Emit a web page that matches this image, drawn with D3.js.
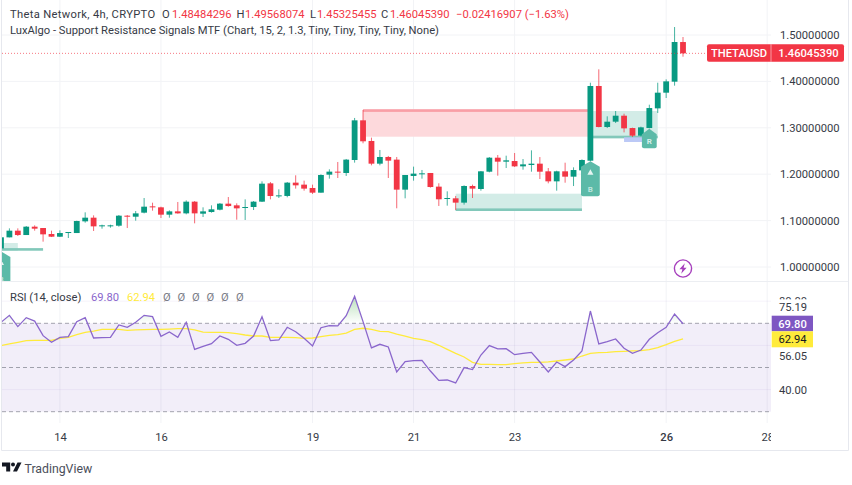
<!DOCTYPE html>
<html>
<meta charset="utf-8"/>
<head>
<title>THETAUSD</title>
<script src="https://d3js.org/d3.v7.min.js"></script>
<style>
  html, body { margin: 0; padding: 0; background: #fff; }
  svg { display: block; }
  text { font-family: Roboto, "Liberation Sans", sans-serif; }
</style>
</head>
<body>
<script>
// candles, 4h bars, first one is cut by the left edge
var opens = [1.040,1.0639,1.0783,1.0689,1.0869,1.0840,1.0711,1.0653,1.0747,1.0732,1.0984,1.1063,1.0890,1.0890,1.0890,1.1106,1.1084,1.1171,1.1307,1.1286,1.1128,1.1199,1.1156,1.1408,1.1149,1.1185,1.1235,1.1365,1.1329,1.1278,1.1293,1.1408,1.1803,1.1530,1.1531,1.1818,1.1775,1.1703,1.1602,1.1990,1.2055,1.2026,1.2306,1.3161,1.2716,1.2227,1.2371,1.2314,1.1667,1.1962,1.2012,1.2026,1.1732,1.1480,1.1480,1.1387,1.1746,1.1681,1.2054,1.2356,1.2270,1.2284,1.2169,1.2198,1.2227,1.2062,1.1846,1.2062,1.1947,1.2083,1.2291,1.3901,1.3017,1.3132,1.3261,1.2995,1.2830,1.2995,1.3419,1.3757,1.3994,1.48484296];
var highs = [1.064,1.0833,1.0833,1.0883,1.0898,1.0840,1.0783,1.0790,1.0754,1.0998,1.1178,1.1113,1.0912,1.0912,1.1120,1.1120,1.1207,1.1487,1.1386,1.1300,1.1221,1.1401,1.1436,1.1422,1.1286,1.1329,1.1379,1.1508,1.1372,1.1458,1.1422,1.1846,1.1832,1.1674,1.1832,1.1976,1.1861,1.1775,1.1997,1.2105,1.2263,1.2328,1.3212,1.3384,1.2788,1.2522,1.2393,1.2371,1.1983,1.2163,1.2091,1.2026,1.1804,1.1631,1.1531,1.1760,1.1775,1.2069,1.2370,1.2414,1.2399,1.2457,1.2327,1.2514,1.2370,1.2133,1.2076,1.2248,1.2148,1.2320,1.3972,1.4260,1.3247,1.3362,1.3304,1.3003,1.3024,1.3498,1.3972,1.4044,1.5172,1.49568074];
var lows = [1.040,1.0639,1.0668,1.0689,1.0783,1.0546,1.0646,1.0646,1.0625,1.0732,1.0955,1.0776,1.0826,1.0847,1.0869,1.0840,1.0998,1.1156,1.1214,1.1056,1.1063,1.1149,1.1135,1.0941,1.1077,1.1171,1.1221,1.1300,1.1020,1.1013,1.1228,1.1401,1.1458,1.1487,1.1502,1.1689,1.1645,1.1574,1.1602,1.1904,1.1918,1.1962,1.2249,1.2666,1.2191,1.2191,1.1918,1.1265,1.1480,1.1861,1.1904,1.1710,1.1315,1.1322,1.1229,1.1344,1.1487,1.1645,1.2040,1.1968,1.2133,1.2155,1.2097,1.2054,1.1896,1.1803,1.1645,1.1817,1.1745,1.2076,1.2277,1.3010,1.2995,1.3103,1.2902,1.2801,1.2816,1.2988,1.3319,1.3642,1.3908,1.45325455];
var closes = [1.064,1.0783,1.0689,1.0869,1.0826,1.0704,1.0653,1.0732,1.0754,1.0991,1.1063,1.0876,1.0898,1.0898,1.1106,1.1084,1.1156,1.1300,1.1300,1.1128,1.1199,1.1156,1.1408,1.1156,1.1199,1.1243,1.1365,1.1314,1.1264,1.1293,1.1408,1.1796,1.1530,1.1544,1.1818,1.1760,1.1689,1.1602,1.1983,1.2055,1.2041,1.2314,1.3161,1.2709,1.2227,1.2371,1.2292,1.1667,1.1983,1.2012,1.2019,1.1724,1.1459,1.1487,1.1387,1.1746,1.1689,1.2062,1.2356,1.2270,1.2299,1.2169,1.2212,1.2227,1.2054,1.1846,1.2062,1.1947,1.2090,1.2306,1.3901,1.3017,1.3132,1.3261,1.2988,1.2830,1.3010,1.3426,1.3757,1.4001,1.4849,1.46045390];

var rsi = [70.44,73.6,68.5,72.55,71.0,64.4,61.4,63.65,63.95,70.75,72.55,63.35,63.5,63.65,69.25,68.2,70.45,73.6,73.0,64.1,66.05,63.65,70.45,58.2,59.6,60.8,64.25,62.75,60.05,60.95,64.25,73.0,62.15,62.45,68.2,66.2,63.2,59.75,68.0,68.95,68.8,73.45,82.2,70.75,58.85,60.5,59.3,47.95,52.65,53.1,53.25,48.4,44.2,44.35,43.0,49.95,49.05,55.65,59.9,58.4,58.55,55.8,56.4,56.85,52.5,47.95,52.5,50.4,53.4,57.5,75.55,60.65,61.7,62.9,58.7,56.4,57.9,62.75,65.75,68.2,74.2,69.8];
var rsiMa = [59.9,60.65,61.4,62.15,62.3,62.3,62.3,63.2,63.65,64.85,65.9,66.5,67.25,67.25,67.25,66.8,67.0,67.1,67.25,67.25,67.4,67.6,67.6,67.0,66.05,65.9,65.9,65.75,65.3,64.7,64.25,64.25,63.65,63.65,63.65,63.5,63.2,63.35,63.95,64.55,64.85,65.6,67.25,67.75,67.25,66.35,66.2,65.15,64.25,63.2,62.6,61.7,60.05,58.2,56.4,54.75,52.35,51.45,51.45,51.3,51.3,51.75,52.05,52.35,52.35,52.5,52.95,53.4,53.85,55.2,56.4,56.7,56.85,57.15,57.3,57.5,57.6,58.1,59.0,60.35,61.85,62.94];

var priceTicks = [1.0,1.1,1.2,1.3,1.4,1.5];
var rsiGrid = [80,60,40];
var rsiBands = [70,50,30];
var rsiAxisLabels = [80,75.19,56.05,40];
var rsiAxisShift = [0,-5,2,0];
var dayLabels = [14,16,19,21,23,26,28];
var dayBars = [6,18,36,48,60,78,90];   // bar number where the day starts

// support / resistance boxes: from bar, to bar, top, bottom
var zoneFrom = [-1,42,53,69,73];
var zoneTo = [4,69,68,77,76];
var zoneTop = [1.0517,1.3399,1.158,1.3362,1.2795];
var zoneBottom = [1.0351,1.2808,1.1207,1.2774,1.2694];
var zoneKind = ["sup","res","sup","sup","blue"];

var signalBars = [-1,69,76];
var signalText = ["B","B","R"];

var W = 852, H = 485;
var chartLeft = 2, axisLeft = 771, frameRight = 848;

var x = d3.scaleLinear().domain([-1,80]).range([0.98,683]);
var y = d3.scaleLinear().domain([1.0,1.5]).range([267,35]);
var yRsi = d3.scaleLinear().domain([30,70]).range([411.7,323.3]);

var svg = d3.select("body").append("svg").attr("width",W).attr("height",H);
var defs = svg.append("defs");
defs.append("clipPath").attr("id","priceClip").append("rect")
  .attr("x",chartLeft).attr("y",0).attr("width",axisLeft-chartLeft).attr("height",281.5);
defs.append("clipPath").attr("id","rsiClip").append("rect")
  .attr("x",chartLeft).attr("y",282).attr("width",axisLeft-chartLeft).attr("height",141);
defs.append("clipPath").attr("id","timeClip").append("rect")
  .attr("x",chartLeft).attr("y",423).attr("width",axisLeft-chartLeft).attr("height",27);
defs.append("clipPath").attr("id","aboveBand").append("rect")
  .attr("x",chartLeft).attr("y",282).attr("width",axisLeft-chartLeft).attr("height",yRsi(70)-282);

var grad = defs.append("linearGradient").attr("id","obFill")
  .attr("gradientUnits","userSpaceOnUse").attr("x1",0).attr("x2",0)
  .attr("y1",yRsi(82)).attr("y2",yRsi(70));
grad.append("stop").attr("offset",0).attr("stop-color","#4caf50").attr("stop-opacity",0.38);
grad.append("stop").attr("offset",1).attr("stop-color","#4caf50").attr("stop-opacity",0);

var GRID = "#f2f3f6";

// vertical grid
svg.append("g").selectAll("line").data(dayBars).join("line")
  .attr("x1",function(d){return x(d);}).attr("x2",function(d){return x(d);})
  .attr("y1",0).attr("y2",423).attr("stroke",GRID);

// price grid + axis
var priceAxis = d3.axisRight(y).tickValues(priceTicks).tickFormat(d3.format(".8f")).tickSize(0).tickPadding(0);
var pa = svg.append("g").attr("transform","translate(780,0)").call(priceAxis);
pa.select(".domain").remove();
pa.selectAll("text").attr("font-size",11.2).attr("fill","#363a45").attr("x",0).style("font-family","Roboto");
svg.append("g").selectAll("line").data(priceTicks).join("line")
  .attr("x1",chartLeft).attr("x2",axisLeft)
  .attr("y1",function(d){return y(d);}).attr("y2",function(d){return y(d);})
  .attr("stroke",GRID);

// zones
var main = svg.append("g").attr("clip-path","url(#priceClip)");
var zoneFill = {sup:"#d3ece7",res:"#fdd9dc",blue:"#bcc9f6"};
var zoneEdge = {sup:"#82c8ba",res:"#f99ea6",blue:"#bcc9f6"};
zoneFrom.forEach(function(f,k){
  var kind = zoneKind[k];
  var x0 = x(f), x1 = x(zoneTo[k]);
  var top = y(zoneTop[k]), bot = y(zoneBottom[k]);
  var fillLeft = (k==0) ? x(1) : x1;
  main.append("rect").attr("x",x0).attr("y",top).attr("width",fillLeft-x0).attr("height",bot-top).attr("fill",zoneFill[kind]);
  if(kind=="res"){
    main.append("rect").attr("x",x0).attr("y",top).attr("width",x1-x0).attr("height",2.6).attr("fill",zoneEdge[kind]);
  } else if(kind=="sup"){
    main.append("rect").attr("x",x0).attr("y",bot-2.6).attr("width",x1-x0).attr("height",2.6).attr("fill",zoneEdge[kind]);
  }
});

// price line
svg.append("line").attr("x1",chartLeft).attr("x2",707)
  .attr("y1",y(closes[closes.length-1])).attr("y2",y(closes[closes.length-1]))
  .attr("stroke","#f23645").attr("stroke-dasharray","1 2").attr("stroke-width",0.9).attr("stroke-opacity",0.75);

// candles
var bars = d3.range(opens.length);
var UP = "#089981", DOWN = "#f23645";
function col(i){ return closes[i]>=opens[i] ? UP : DOWN; }
main.append("g").selectAll("line").data(bars).join("line")
  .attr("x1",function(i){return x(i-1);}).attr("x2",function(i){return x(i-1);})
  .attr("y1",function(i){return y(highs[i]);}).attr("y2",function(i){return y(lows[i]);})
  .attr("stroke",col).attr("stroke-width",1).attr("stroke-opacity",0.75);
main.append("g").selectAll("rect").data(bars).join("rect")
  .attr("x",function(i){return x(i-1)-2.9;}).attr("width",5.8)
  .attr("y",function(i){return y(Math.max(opens[i],closes[i]));})
  .attr("height",function(i){return Math.max(1,Math.abs(y(opens[i])-y(closes[i])));})
  .attr("fill",col);

// signal labels under the bars
var sigBody = "#5cbaa8";
signalBars.forEach(function(b,k){
  var cx = x(b);
  var big = signalText[k]=="B";
  var hw = big ? 9.4 : 7.4;
  var tip = big ? y(lows[b+1])+ (b==-1 ? 3 : 0) : y(lows[b+1])+0.5;
  var h = (big && b!=-1) ? 35 : (big ? 40 : 19.5);
  var g = main.append("g");
  g.append("path").attr("fill",sigBody).attr("d",
    "M"+cx+","+tip+"L"+(cx+hw)+","+(tip+5.5)+"V"+(tip+h-2)+"Q"+(cx+hw)+","+(tip+h)+" "+(cx+hw-2)+","+(tip+h)+
    "H"+(cx-hw+2)+"Q"+(cx-hw)+","+(tip+h)+" "+(cx-hw)+","+(tip+h-2)+"V"+(tip+5.5)+"Z");
  if(big){
    g.append("path").attr("fill","#e6f5f2").attr("d","M"+cx+","+(tip+8)+"l3,5.5h-6z");
    g.append("text").attr("x",cx).attr("y",tip+31).attr("text-anchor","middle").attr("font-size",8).attr("font-weight",700).attr("fill","#bfe6de").text(signalText[k]);
  } else {
    g.append("text").attr("x",cx).attr("y",tip+15).attr("text-anchor","middle").attr("font-size",8).attr("font-weight",700).attr("fill","#d6efea").text(signalText[k]);
  }
});

// lightning badge
var badge = svg.append("g").attr("transform","translate(683,268.5)");
badge.append("circle").attr("r",8.6).attr("fill","#fff").attr("stroke","#a63fbd").attr("stroke-width",1.4);
badge.append("path").attr("d","M1.8,-5.2L-3.6,0.8H-0.6L-1.8,5.2L3.6,-0.8H0.6Z").attr("fill","#a63fbd");

// separator between panes
svg.append("line").attr("x1",chartLeft).attr("x2",frameRight).attr("y1",281.5).attr("y2",281.5).attr("stroke","#eceef2");

// rsi pane
var pane = svg.append("g").attr("clip-path","url(#rsiClip)");
pane.append("rect").attr("x",chartLeft).attr("width",axisLeft-chartLeft)
  .attr("y",yRsi(70)).attr("height",yRsi(30)-yRsi(70)).attr("fill","#7e57c2").attr("fill-opacity",0.1);
pane.append("g").selectAll("line").data(rsiGrid).join("line")
  .attr("x1",chartLeft).attr("x2",axisLeft)
  .attr("y1",function(d){return yRsi(d);}).attr("y2",function(d){return yRsi(d);})
  .attr("stroke","#7e57c2").attr("stroke-opacity",0.07);
pane.append("g").selectAll("line").data(rsiBands).join("line")
  .attr("x1",chartLeft).attr("x2",axisLeft)
  .attr("y1",function(d){return yRsi(d);}).attr("y2",function(d){return yRsi(d);})
  .attr("stroke","#787b86").attr("stroke-dasharray","4 3").attr("stroke-width",0.9).attr("stroke-opacity",0.75);

var rsiArea = d3.area().x(function(d,i){return x(i-1);}).y0(yRsi(70)).y1(function(d){return yRsi(d);});
pane.append("g").attr("clip-path","url(#aboveBand)").append("path").datum(rsi)
  .attr("d",rsiArea).attr("fill","url(#obFill)");

var rsiLine = d3.line().x(function(d,i){return x(i-1);}).y(function(d){return yRsi(d);});
pane.append("path").datum(rsiMa).attr("d",rsiLine).attr("fill","none").attr("stroke","#ffeb3b").attr("stroke-width",1.3);
pane.append("path").datum(rsi).attr("d",rsiLine).attr("fill","none").attr("stroke","#8a66cc").attr("stroke-width",1.3);

// rsi axis labels, later ones hide the one above
rsiAxisLabels.forEach(function(v,k){
  var ly = yRsi(v)+rsiAxisShift[k];
  svg.append("rect").attr("x",775).attr("width",40).attr("y",ly-(k==1?7.5:8)).attr("height",16).attr("fill",k==0?"none":"#fff");
  svg.append("text").attr("x",793).attr("y",ly+4).attr("text-anchor","middle").attr("font-size",11.2).attr("fill","#363a45")
    .text(d3.format(".2f")(v));
});
function valueBox(top,h,fill,txtCol,v){
  svg.append("rect").attr("x",771.7).attr("y",top).attr("width",41.3).attr("height",h).attr("fill",fill);
  svg.append("text").attr("x",792.5).attr("y",top+h/2+4).attr("text-anchor","middle").attr("font-size",11.2).attr("font-weight",txtCol=="#fff"?500:400).attr("fill",txtCol).text(v);
}
valueBox(315.7,15.6,"#7e57c2","#fff",d3.format(".2f")(rsi[rsi.length-1]));
valueBox(331.3,16,"#ffeb3b","#131722",d3.format(".2f")(rsiMa[rsiMa.length-1]));

// time axis
var timeAxis = d3.axisBottom(x).tickValues(dayBars).tickFormat(function(d,i){return dayLabels[i];}).tickSize(0).tickPadding(0);
var ta = svg.append("g").attr("clip-path","url(#timeClip)").append("g").attr("transform","translate(0,433)").call(timeAxis);
ta.select(".domain").remove();
ta.selectAll("text").attr("font-size",11.2).attr("fill","#363a45").attr("y",0).style("font-family","Roboto");
ta.selectAll("text").filter(function(d,i){return i==5;}).attr("font-weight",500);

// frame
svg.append("path").attr("d","M1.5,0V450.5H848.5V0").attr("fill","none").attr("stroke","#e6e8ee");

// last price tag
var fmt8 = d3.format(".8f"), last = closes.length-1;
svg.append("rect").attr("x",707).attr("y",44.3).attr("width",137).attr("height",17.4).attr("rx",2).attr("fill","#f23645");
svg.append("line").attr("x1",771).attr("x2",771).attr("y1",44.3).attr("y2",61.7).attr("stroke","#fff").attr("stroke-opacity",0.5);
svg.append("text").attr("x",739).attr("y",57).attr("text-anchor","middle").attr("font-size",11.2).attr("font-weight",500).attr("fill","#fff").text("THETAUSD");
svg.append("text").attr("x",808.5).attr("y",57).attr("text-anchor","middle").attr("font-size",11.2).attr("font-weight",500).attr("fill","#fff").text(fmt8(closes[last]));

// legends
function legendText(px,py,s,fill){
  return svg.append("text").attr("x",px).attr("y",py).attr("font-size",11.2).attr("fill",fill).text(s);
}
var INK = "#363a45", RED = "#f23645";
legendText(10,18,"Theta Network, 4h, CRYPTO",INK).attr("letter-spacing",0.32);
legendText(162,18,"O",INK); legendText(172,18,fmt8(opens[last]),RED);
legendText(236.5,18,"H",INK); legendText(245,18,fmt8(highs[last]),RED);
legendText(310,18,"L",INK); legendText(317,18,fmt8(lows[last]),RED);
legendText(381,18,"C",INK); legendText(390,18,fmt8(closes[last]),RED);
legendText(456,18,"\u22120.02416907 (\u22121.63%)",RED);
legendText(10,34,"LuxAlgo - Support Resistance Signals MTF (Chart, 15, 2, 1.3, Tiny, Tiny, Tiny, Tiny, None)",INK);

legendText(10,301,"RSI (14, close)",INK);
legendText(91,301,"69.80","#8a66cc");
legendText(127,301,"62.94","#ffeb3b");
[163,177.5,192,206.5,221,236].forEach(function(px){ legendText(px,301,"\u00d8","#787b86"); });

// logo
var logo = svg.append("g").attr("transform","translate(2,462)").attr("fill","#131722");
logo.append("path").attr("d","M0,0.5H8.2V9.5H4.2V4.5H0Z");
logo.append("circle").attr("cx",11).attr("cy",2.5).attr("r",2);
logo.append("path").attr("d","M15.5,0.5H19.5L15,9.5H11Z");
svg.append("text").attr("x",24.5).attr("y",472.5).attr("font-size",12.3).attr("fill","#4a4e59").text("TradingView");
</script>
</body>
</html>
